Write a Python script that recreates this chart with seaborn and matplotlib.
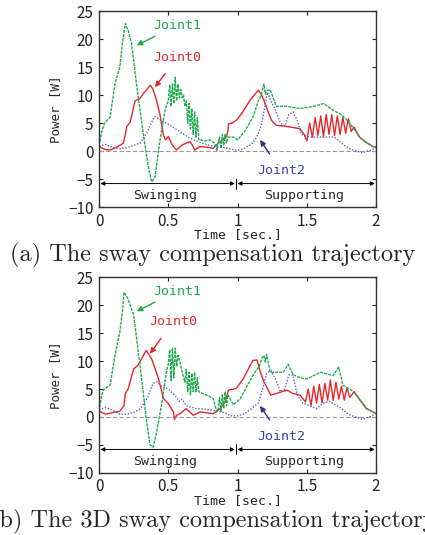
import numpy as np
import pandas as pd
import matplotlib
matplotlib.use("Agg")
import matplotlib.pyplot as plt
import seaborn as sns

# ==========================================
# Data (time [s], power [W])
# ==========================================
# (a) sway compensation
t0a = [0.00, 0.04, 0.08, 0.12, 0.175, 0.19, 0.20, 0.225, 0.26, 0.295,
       0.32, 0.345, 0.37, 0.39, 0.416, 0.44, 0.465, 0.48, 0.50, 0.52,
       0.537, 0.56, 0.60, 0.657, 0.675, 0.69, 0.73, 0.78, 0.825, 0.86,
       0.92, 0.93, 0.935, 0.96, 0.99, 1.03, 1.09, 1.15, 1.17, 1.19,
       1.22, 1.245, 1.28, 1.33, 1.38, 1.45, 1.48, 1.50,
       1.52, 1.54, 1.56, 1.58, 1.60, 1.62, 1.64, 1.66, 1.68, 1.70, 1.72, 1.74,
       1.76, 1.78, 1.80, 1.82, 1.84, 1.88, 1.93, 1.98, 2.00]
p0a = [0.9, 0.3, 0.2, 0.6, 1.4, 3.0, 4.4, 5.2, 9.0, 9.4,
       10.3, 11.0, 11.8, 11.0, 9.0, 6.5, 2.8, 2.0, 2.6, 1.5,
       0.8, 0.2, 1.1, 1.7, 1.0, 0.2, 0.8, 0.7, 0.5, 1.4,
       2.6, 3.5, 4.9, 5.0, 5.5, 6.7, 9.1, 10.9, 10.2, 9.1,
       7.0, 5.5, 4.6, 4.5, 4.3, 4.0, 3.0, 1.8,
       5.0, 2.5, 6.0, 2.8, 6.3, 2.6, 6.5, 3.0, 6.5, 2.8, 6.3, 3.0,
       6.0, 3.2, 5.8, 3.5, 4.3, 2.5, 1.5, 0.8, 0.7]

t1a = [0.00, 0.02, 0.04, 0.08, 0.115, 0.15, 0.17, 0.19, 0.21, 0.235, 0.27, 0.32, 0.356, 0.38, 0.404, 0.44, 0.476, 0.50,
       0.51, 0.52, 0.53, 0.54, 0.55, 0.56, 0.57, 0.58, 0.59, 0.60, 0.61, 0.62, 0.63,
       0.64, 0.65, 0.66, 0.67, 0.68, 0.69, 0.70, 0.71, 0.72, 0.74, 0.76, 0.80, 0.83, 0.845, 0.85, 0.855,
       0.87, 0.88, 0.89, 0.90, 0.91, 0.92, 0.93, 0.95, 0.97, 1.00, 1.05, 1.11, 1.15, 1.17, 1.19, 1.20, 1.21,
       1.235, 1.28, 1.355, 1.45, 1.55, 1.62, 1.69, 1.75, 1.79, 1.84, 1.88, 1.93, 1.98, 2.00]
p1a = [1.0, 3.5, 5.0, 6.1, 12.0, 15.0, 19.5, 22.8, 21.6, 19.2, 12.0, 3.0, -2.8, -5.5, -4.6, 2.0, 7.3, 9.0,
       11.8, 8.0, 12.0, 8.5, 13.2, 9.0, 12.0, 9.5, 11.0, 9.5, 10.0, 8.0, 9.0,
       5.0, 8.5, 4.0, 7.5, 3.0, 7.0, 2.5, 6.0, 2.0, 2.0, 1.8, 2.0, 1.5, 1.0, 0.0, 1.2,
       2.5, 0.5, 3.0, 1.0, 3.0, 1.5, 2.5, 2.5, 2.5, 2.0, 3.5, 6.0, 9.0, 10.0, 12.0, 10.2, 10.8,
       11.0, 8.0, 8.0, 7.6, 8.0, 8.5, 7.3, 6.5, 5.5, 4.0, 2.5, 1.5, 0.8, 0.7]

t2a = [0.00, 0.05, 0.10, 0.15, 0.20, 0.25, 0.30, 0.35, 0.40, 0.45,
       0.50, 0.55, 0.60, 0.65, 0.70, 0.80, 0.90, 1.00, 1.05, 1.10,
       1.14, 1.17, 1.19, 1.215, 1.24, 1.27, 1.31, 1.34, 1.37, 1.40,
       1.43, 1.46, 1.52, 1.60, 1.70, 1.77, 1.82, 1.86, 1.90, 1.95, 2.00]
p2a = [0.9, 1.2, 0.6, 0.4, 0.6, 1.0, 1.5, 3.5, 6.2, 5.5,
       4.8, 4.0, 3.2, 2.4, 1.8, 1.0, 0.6, 0.1, 0.5, 1.2,
       2.6, 4.5, 7.0, 10.5, 9.0, 7.5, 5.0, 4.5, 6.5, 7.0,
       5.5, 3.0, 2.5, 2.5, 2.5, 1.0, 0.3, 0.0, -0.3, 0.1, 0.6]

# (b) 3D sway compensation
t0b = [0.00, 0.05, 0.10, 0.15, 0.18, 0.19, 0.21, 0.25, 0.28, 0.31,
       0.34, 0.38, 0.43, 0.465, 0.50, 0.537, 0.545, 0.56, 0.585, 0.63,
       0.68, 0.73, 0.825, 0.875, 0.91, 0.935, 0.99, 1.04, 1.11, 1.14,
       1.165, 1.19, 1.24, 1.28, 1.355, 1.40, 1.45, 1.49,
       1.51, 1.53, 1.55, 1.57, 1.59, 1.61, 1.63, 1.65, 1.67, 1.69, 1.71, 1.73,
       1.75, 1.77, 1.79, 1.81, 1.84, 1.93, 2.00]
p0b = [1.0, 0.5, 0.8, 1.0, 2.0, 4.2, 5.0, 8.6, 9.2, 10.5,
       11.9, 10.4, 6.8, 3.3, 2.4, 0.9, -0.4, 0.3, 0.6, 1.5,
       0.3, 0.9, 0.6, 1.5, 2.7, 4.8, 5.1, 6.8, 10.1, 10.2,
       8.0, 6.3, 3.9, 4.2, 4.8, 4.2, 3.9, 2.7,
       5.0, 2.0, 5.5, 2.5, 5.8, 2.5, 6.0, 3.0, 6.6, 3.0, 6.2, 3.2,
       5.5, 3.0, 5.2, 3.5, 4.5, 1.5, 0.6]

t1b = [0.00, 0.02, 0.036, 0.08, 0.115, 0.15, 0.17, 0.18, 0.21, 0.25, 0.296, 0.344, 0.368, 0.39, 0.416, 0.45, 0.49, 0.50,
       0.51, 0.52, 0.53, 0.54, 0.55, 0.56, 0.57, 0.585, 0.60, 0.62,
       0.63, 0.64, 0.65, 0.66, 0.67, 0.68, 0.69, 0.70, 0.71, 0.72, 0.75, 0.78, 0.825, 0.85,
       0.86, 0.87, 0.88, 0.89, 0.90, 0.91, 0.92, 0.93, 0.95, 0.97, 1.02, 1.11, 1.16, 1.175,
       1.19, 1.20, 1.21, 1.235, 1.28, 1.33, 1.365, 1.40, 1.45, 1.50, 1.60, 1.69, 1.73, 1.76, 1.84, 1.93, 2.00]
p1b = [1.0, 4.0, 5.0, 5.7, 11.0, 15.2, 19.0, 22.3, 21.1, 18.2, 9.2, -0.9, -5.0, -5.4, -2.7, 2.0, 8.6, 9.5,
       12.0, 6.5, 12.3, 7.0, 12.3, 9.0, 11.0, 9.8, 8.0, 6.2,
       8.5, 4.5, 8.0, 4.0, 7.8, 4.5, 8.0, 4.5, 7.0, 4.5, 4.2, 3.9, 3.3, 0.9,
       1.5, 3.5, 1.0, 4.0, 1.5, 4.5, 2.0, 4.0, 3.0, 2.2, 3.3, 7.4, 9.2, 10.5,
       11.0, 9.8, 11.2, 8.0, 8.0, 8.0, 9.4, 7.6, 7.0, 6.8, 8.0, 7.4, 8.9, 5.7, 4.5, 1.5, 0.6]

t2b = [0.00, 0.05, 0.10, 0.15, 0.20, 0.25, 0.30, 0.35, 0.39, 0.42,
       0.45, 0.50, 0.55, 0.58, 0.60, 0.63, 0.70, 0.80, 0.90, 0.95,
       1.00, 1.05, 1.10, 1.15, 1.18, 1.21, 1.24, 1.27, 1.31, 1.34,
       1.37, 1.40, 1.43, 1.47, 1.52, 1.57, 1.62, 1.66, 1.70, 1.75,
       1.80, 1.85, 1.90, 1.95, 2.00]
p2b = [1.3, 1.7, 1.2, 0.5, 0.5, 0.8, 1.5, 3.5, 6.0, 6.3,
       5.5, 5.0, 3.8, 2.8, 3.2, 2.0, 1.5, 1.3, 0.8, 0.2,
       0.2, 0.6, 1.5, 2.5, 5.0, 7.8, 8.3, 7.0, 4.5, 5.0,
       7.5, 7.5, 4.0, 2.5, 2.0, 1.5, 2.5, 2.8, 2.3, 1.5,
       0.5, 0.0, -0.4, 0.0, 0.6]

joints = ["Joint0", "Joint1", "Joint2"]
captions = ["(a) The sway compensation trajectory",
            "(b) The 3D sway compensation trajectory"]
palette = {"Joint0": "#e8262a", "Joint1": "#1faa4f", "Joint2": "#5a5fc0"}
dashes = {"Joint0": "", "Joint1": (2.2, 0.8), "Joint2": (1, 1.2)}


def make_df(series):
    frames = []
    for name, (t, p) in zip(joints, series):
        frames.append(pd.DataFrame({"t": t, "p": p, "joint": name}))
    return pd.concat(frames, ignore_index=True)


panels = [make_df([(t0a, p0a), (t1a, p1a), (t2a, p2a)]),
          make_df([(t0b, p0b), (t1b, p1b), (t2b, p2b)])]

# ==========================================
# Plot
# ==========================================
sns.set_theme(style="ticks")
plt.rcParams['font.family'] = ['Noto Sans CJK JP', 'DejaVu Sans']
mono = "DejaVu Sans Mono"

fig = plt.figure(figsize=(4.25, 5.35), dpi=100)
axes_pos = [[0.233, 0.613, 0.652, 0.366], [0.233, 0.116, 0.652, 0.366]]
caption_base = [0.512, 0.014]

for k, df in enumerate(panels):
    ax = fig.add_axes(axes_pos[k])
    ax.axhline(0, color="#999999", lw=0.8, ls=(0, (4, 2)), zorder=1)
    sns.lineplot(data=df, x="t", y="p", hue="joint", style="joint",
                 palette=palette, dashes=dashes, estimator=None,
                 linewidth=1.0, legend=False, ax=ax)
    ax.set_xlim(0, 2)
    ax.set_ylim(-10, 25)
    ax.set_xticks([0, 0.5, 1, 1.5, 2])
    ax.set_xticklabels(["0", "0.5", "1", "1.5", "2"])
    ax.set_yticks(range(-10, 26, 5))
    ax.tick_params(direction="in", length=3, width=0.8, top=True, right=True,
                   labelsize=11, pad=4, colors="#222222")
    for s in ax.spines.values():
        s.set_linewidth(1.0)
        s.set_color("#333333")
    ax.set_xlabel("Time [sec.]", fontsize=9.5, family=mono, labelpad=-1)
    ax.set_ylabel("Power [W]", fontsize=9, family=mono, labelpad=4)

    # phase arrows
    arr = dict(arrowstyle="<|-|>", color="black", lw=0.7,
               mutation_scale=6, shrinkA=0, shrinkB=0)
    ax.annotate("", xy=(0.01, -5.8), xytext=(0.98, -5.8), arrowprops=arr)
    ax.annotate("", xy=(1.0, -5.8), xytext=(1.99, -5.8), arrowprops=arr)
    ax.plot([0.99, 0.99], [-4.9, -6.7], color="black", lw=0.7)
    ax.text(0.48, -7.9, "Swinging", ha="center", va="center", fontsize=9.5, family=mono)
    ax.text(1.48, -7.9, "Supporting", ha="center", va="center", fontsize=9.5, family=mono)

    # joint labels
    j0_text = (0.39, 16.8) if k == 0 else (0.36, 17.0)
    j0_tip = (0.404, 11.4) if k == 0 else (0.368, 11.3)
    ax.annotate("Joint1", xy=(0.272, 18.9), xytext=(0.39, 22.5),
                color=palette["Joint1"], fontsize=9.5, family=mono, va="center", ha="left",
                arrowprops=dict(arrowstyle="-|>", color=palette["Joint1"], lw=1.0,
                                mutation_scale=8, shrinkA=2, shrinkB=0))
    ax.annotate("Joint0", xy=j0_tip, xytext=j0_text,
                color=palette["Joint0"], fontsize=9.5, family=mono, va="center", ha="left",
                arrowprops=dict(arrowstyle="-|>", color=palette["Joint0"], lw=1.0,
                                mutation_scale=8, shrinkA=6, shrinkB=0))
    ax.annotate("Joint2", xy=(1.162, 2.0), xytext=(1.14, -3.5),
                color="#3f44a8", fontsize=9.5, family=mono, va="center", ha="left",
                arrowprops=dict(arrowstyle="-|>", color="#2f3590", lw=1.0,
                                mutation_scale=8, shrinkA=6, shrinkB=0))

    fig.text(0.5, caption_base[k], captions[k], ha="center", va="baseline",
             fontsize=17.5, family="cmr10")

plt.savefig("out.png", dpi=100)
